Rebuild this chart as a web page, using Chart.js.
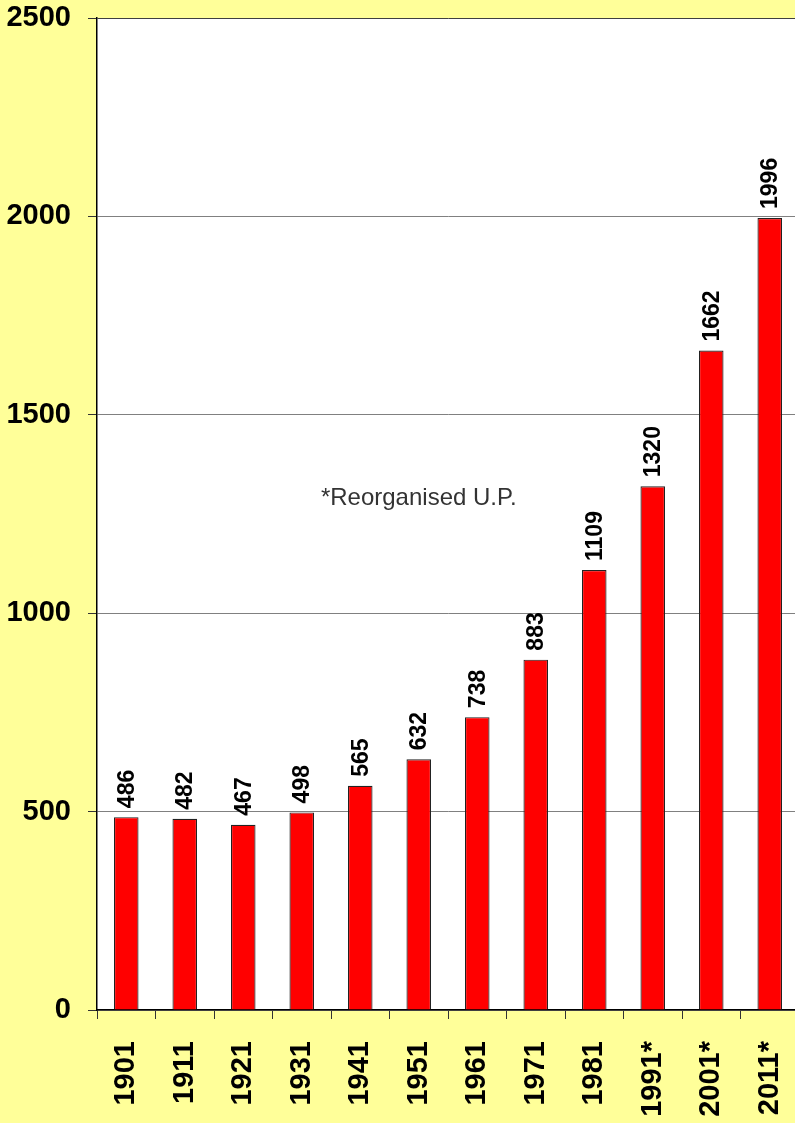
<!DOCTYPE html>
<html>
<head>
<meta charset="utf-8">
<script src="https://cdn.jsdelivr.net/npm/chart.js@4.4.1/dist/chart.umd.min.js"></script>
<style>
  html, body { margin: 0; padding: 0; overflow: hidden; background: #ffff99; }
  #wrap { width: 799px; height: 1123px; position: relative; }
</style>
</head>
<body>
<div id="wrap"><canvas id="popChart"></canvas></div>
<script>
const years = ["1901", "1911", "1921", "1931", "1941", "1951", "1961", "1971", "1981", "1991*", "2001*", "2011*"];
const population = [486, 482, 467, 498, 565, 632, 738, 883, 1109, 1320, 1662, 1996];
const yMin = 0;
const yMax = 2500;
const yStep = 500;
const noteText = "*Reorganised U.P.";
const noteAt = { index: 5, value: 1290 };

const fontFamily = "'Liberation Sans', Arial, sans-serif";

// yellow page, white plot area
const bgPlugin = {
  id: "bg",
  beforeDraw(chart) {
    const { ctx, chartArea: a } = chart;
    ctx.save();
    ctx.fillStyle = "#ffff99";
    ctx.fillRect(0, 0, chart.width, chart.height);
    ctx.fillStyle = "#ffffff";
    ctx.fillRect(a.left, a.top, a.right - a.left, a.bottom - a.top);
    ctx.restore();
  }
};

// vertical value labels above bars + the note text
const labelPlugin = {
  id: "barLabels",
  afterDatasetsDraw(chart) {
    const ctx = chart.ctx;
    const meta = chart.getDatasetMeta(0);
    ctx.save();
    ctx.fillStyle = "#000";
    ctx.font = "bold 23px " + fontFamily;
    ctx.textAlign = "left";
    ctx.textBaseline = "middle";
    meta.data.forEach((bar, i) => {
      ctx.save();
      ctx.translate(bar.x + 1, bar.y - 9);
      ctx.rotate(-Math.PI / 2);
      ctx.fillText(String(population[i]), 0, 0);
      ctx.restore();
    });

    const x = chart.scales.x.getPixelForValue(noteAt.index);
    const y = chart.scales.y.getPixelForValue(noteAt.value);
    ctx.font = "24px " + fontFamily;
    ctx.fillStyle = "#333333";
    ctx.textAlign = "center";
    ctx.fillText(noteText, x, y);
    ctx.restore();
  }
};

new Chart(document.getElementById("popChart"), {
  type: "bar",
  data: {
    labels: years,
    datasets: [{
      data: population,
      backgroundColor: "#ff0000",
      borderColor: "#222222",
      borderWidth: 1.2,
      barPercentage: 0.42,
      categoryPercentage: 1
    }]
  },
  options: {
    responsive: true,
    maintainAspectRatio: false,
    animation: false,
    layout: { padding: 0 },
    plugins: {
      legend: { display: false },
      tooltip: { enabled: false }
    },
    scales: {
      x: {
        grid: {
          offset: true,
          drawOnChartArea: false,
          tickLength: 9,
          color: "#333333"
        },
        border: { color: "#000", width: 1.5 },
        ticks: {
          autoSkip: false,
          minRotation: 90,
          maxRotation: 90,
          padding: 22,
          color: "#000",
          font: { family: fontFamily, size: 29, weight: "bold" }
        },
        afterFit(scale) {
          scale.height = 113;
          scale.paddingLeft = 0;
          scale.paddingRight = 0;
        }
      },
      y: {
        min: yMin,
        max: yMax,
        grid: {
          color: ctx => ctx.tick && ctx.tick.value === yMax ? "#404040" : "#808080",
          tickColor: "#333333",
          tickLength: 9
        },
        border: { color: "#000", width: 1.5 },
        ticks: {
          stepSize: yStep,
          padding: 17,
          color: "#000",
          font: { family: fontFamily, size: 29, weight: "bold" },
          callback: v => String(v)
        },
        afterFit(scale) {
          scale.width = 97;
          scale.paddingTop = 18;
          scale.paddingBottom = 0;
        }
      }
    }
  },
  plugins: [bgPlugin, labelPlugin]
});
</script>
</body>
</html>
